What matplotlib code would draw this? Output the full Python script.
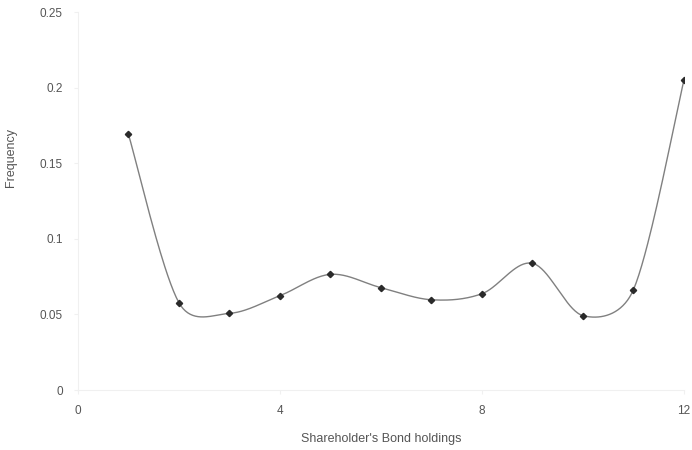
import numpy as np
import matplotlib.pyplot as plt

plt.rcParams['font.family'] = ['Liberation Sans', 'DejaVu Sans']

# bond holdings categories and observed frequencies
holdings = [1, 2, 3, 4, 5, 6, 7, 8, 9, 10, 11, 12]
frequency = [0.169, 0.0577, 0.0507, 0.0624, 0.0765, 0.0677, 0.0597, 0.0637, 0.0838, 0.0492, 0.0664, 0.205]

xticks = [0, 4, 8, 12]
yticks = [0, 0.05, 0.1, 0.15, 0.2, 0.25]
yticklabels = ['0', '0.05', '0.1', '0.15', '0.2', '0.25']

# pixels per data unit, used so the smoothing behaves like it does on screen
XSCALE = 50.5
YSCALE = 1512.0


def smooth_curve(x, y, n=40):
    # Bezier smoothing with tangents clipped by chord length
    x = np.asarray(x, float) * XSCALE
    y = np.asarray(y, float) * YSCALE
    pts = np.column_stack([x, y])
    pts = np.vstack([pts[0], pts, pts[-1]])
    t = np.linspace(0, 1, n)[:, None]
    out = []
    for i in range(1, len(pts) - 2):
        p0, p1, p2, p3 = pts[i - 1], pts[i], pts[i + 1], pts[i + 2]
        d12 = np.hypot(*(p2 - p1))
        d02 = np.hypot(*(p2 - p0))
        d13 = np.hypot(*(p3 - p1))
        f0 = 1 / 6 if d02 / 6 < d12 / 2 else d12 / 2 / d02
        f1 = 1 / 6 if d13 / 6 < d12 / 2 else d12 / 2 / d13
        c1 = p1 + (p2 - p0) * f0
        c2 = p2 - (p3 - p1) * f1
        seg = (1 - t) ** 3 * p1 + 3 * (1 - t) ** 2 * t * c1 \
            + 3 * (1 - t) * t ** 2 * c2 + t ** 3 * p2
        out.append(seg)
    out = np.vstack(out)
    return out[:, 0] / XSCALE, out[:, 1] / YSCALE


fig = plt.figure(figsize=(6.92, 4.5), dpi=100)
ax = fig.add_axes([0.1127, 0.1333, 0.8757, 0.84])

cx, cy = smooth_curve(holdings, frequency)
ax.plot(cx, cy, color='#808080', lw=1.0, zorder=2)
ax.plot(holdings, frequency, linestyle='none', marker='D', markersize=3.2,
        color='#2a2a2a', zorder=3)

ax.set_xlim(0, 12)
ax.set_ylim(0, 0.25)
ax.set_xticks(xticks)
ax.set_yticks(yticks)
ax.set_yticklabels(yticklabels)

for side in ['top', 'right']:
    ax.spines[side].set_visible(False)
for side in ['left', 'bottom']:
    ax.spines[side].set_color('#f0f0f0')
    ax.spines[side].set_linewidth(0.8)

ax.tick_params(axis='both', colors='#f0f0f0', labelcolor='#555555',
               labelsize=8.5, length=3)
ax.tick_params(axis='y', pad=8)
ax.tick_params(axis='x', pad=8)

ax.set_xlabel("Shareholder's Bond holdings", fontsize=9, color='#555555')
ax.set_ylabel('Frequency', fontsize=9, color='#555555')
ax.xaxis.set_label_coords(0.5, -0.115)
ax.yaxis.set_label_coords(-0.100, 0.616)

fig.savefig('out.png', dpi=100)
